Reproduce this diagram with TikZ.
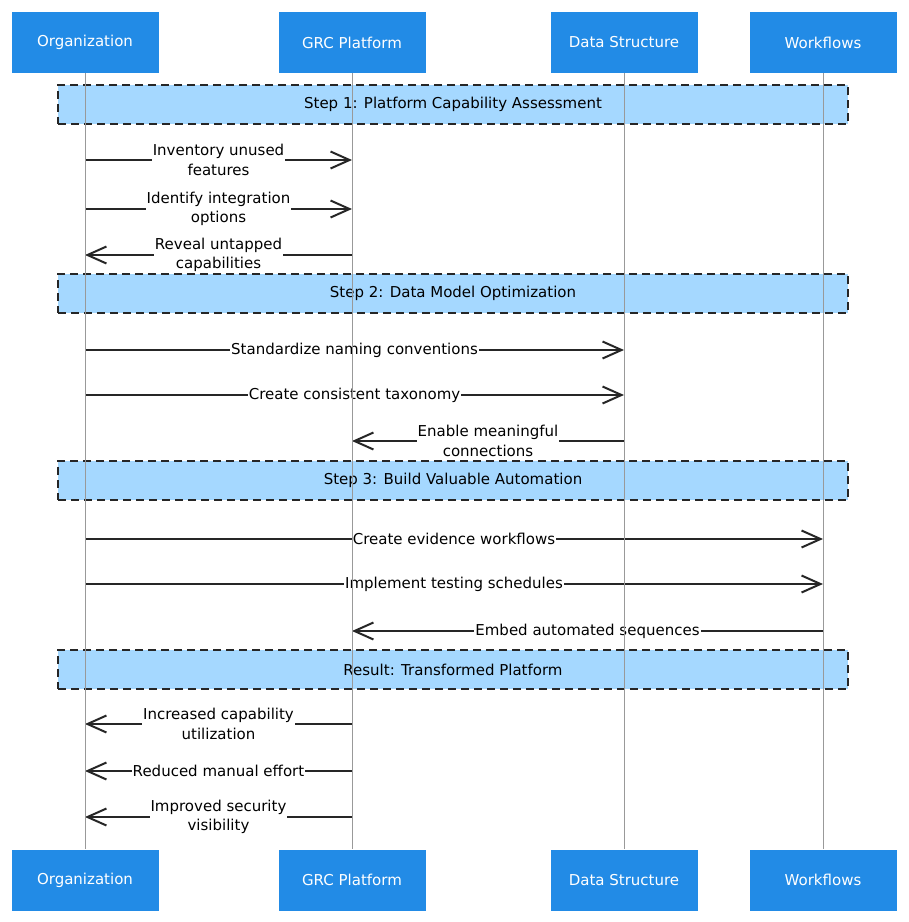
\documentclass[tikz,border=0pt]{standalone}
\usepackage{fontspec}
\setmainfont{DejaVu Sans}
\usetikzlibrary{arrows.meta}
\begin{document}
\begin{tikzpicture}[x=1pt,y=-1pt,>={Straight Barb[length=19pt,width=17pt,line width=2pt]},
  actor/.style={fill=boxblue,text=white,minimum width=147pt,minimum height=61pt,inner sep=0pt},
  band/.style={fill=bandblue,draw=black!85,line width=1.6pt,dash pattern=on 8pt off 5pt,minimum width=790pt,minimum height=39pt},
  msg/.style={->,line width=2.2pt,draw=black!85},
  lbl/.style={fill=white,align=center,inner sep=1pt,midway},
  life/.style={draw=black!40,line width=0.9pt},
  every node/.style={font=\fontsize{15}{19.5}\selectfont}]
\definecolor{boxblue}{HTML}{228BE6}
\definecolor{bandblue}{HTML}{A5D8FF}
\useasboundingbox (0,0) rectangle (909,922);
% participants
\node[actor] (orgT) at (85,42.5) {Organization};
\node[actor] (grcT) at (352,42.5) {GRC Platform};
\node[actor] (dataT) at (624,42.5) {Data Structure};
\node[actor] (wfT) at (823,42.5) {Workflows};
\node[actor] (orgB) at (85,880) {Organization};
\node[actor] (grcB) at (352,880) {GRC Platform};
\node[actor] (dataB) at (624,880) {Data Structure};
\node[actor] (wfB) at (823,880) {Workflows};
% steps
\node[band] (step1) at (453,104.5) {Step 1: Platform Capability Assessment};
\node[band] (step2) at (453,293.5) {Step 2: Data Model Optimization};
\node[band] (step3) at (453,480.5) {Step 3: Build Valuable Automation};
\node[band] (result) at (453,669.5) {Result: Transformed Platform};
% step 1
\draw[msg] (orgT |- 0,160) -- node[lbl] {Inventory unused\\features} (grcT |- 0,160);
\draw[msg] (orgT |- 0,209) -- node[lbl] {Identify integration\\options} (grcT |- 0,209);
\draw[msg] (grcT |- 0,255) -- node[lbl] {Reveal untapped\\capabilities} (orgT |- 0,255);
% step 2
\draw[msg] (orgT |- 0,350) -- node[lbl] {Standardize naming conventions} (dataT |- 0,350);
\draw[msg] (orgT |- 0,395) -- node[lbl] {Create consistent taxonomy} (dataT |- 0,395);
\draw[msg] (dataT |- 0,441) -- node[lbl] {Enable meaningful\\connections} (grcT |- 0,441);
% step 3
\draw[msg] (orgT |- 0,539) -- node[lbl] {Create evidence workflows} (wfT |- 0,539);
\draw[msg] (orgT |- 0,584) -- node[lbl] {Implement testing schedules} (wfT |- 0,584);
\draw[msg] (wfT |- 0,631) -- node[lbl] {Embed automated sequences} (grcT |- 0,631);
% result
\draw[msg] (grcT |- 0,724) -- node[lbl] {Increased capability\\utilization} (orgT |- 0,724);
\draw[msg] (grcT |- 0,771) -- node[lbl] {Reduced manual effort} (orgT |- 0,771);
\draw[msg] (grcT |- 0,817) -- node[lbl] {Improved security\\visibility} (orgT |- 0,817);
% lifelines
\draw[life] (orgT) -- (orgB);
\draw[life] (grcT) -- (grcB);
\draw[life] (dataT) -- (dataB);
\draw[life] (wfT) -- (wfB);
\end{tikzpicture}
\end{document}
